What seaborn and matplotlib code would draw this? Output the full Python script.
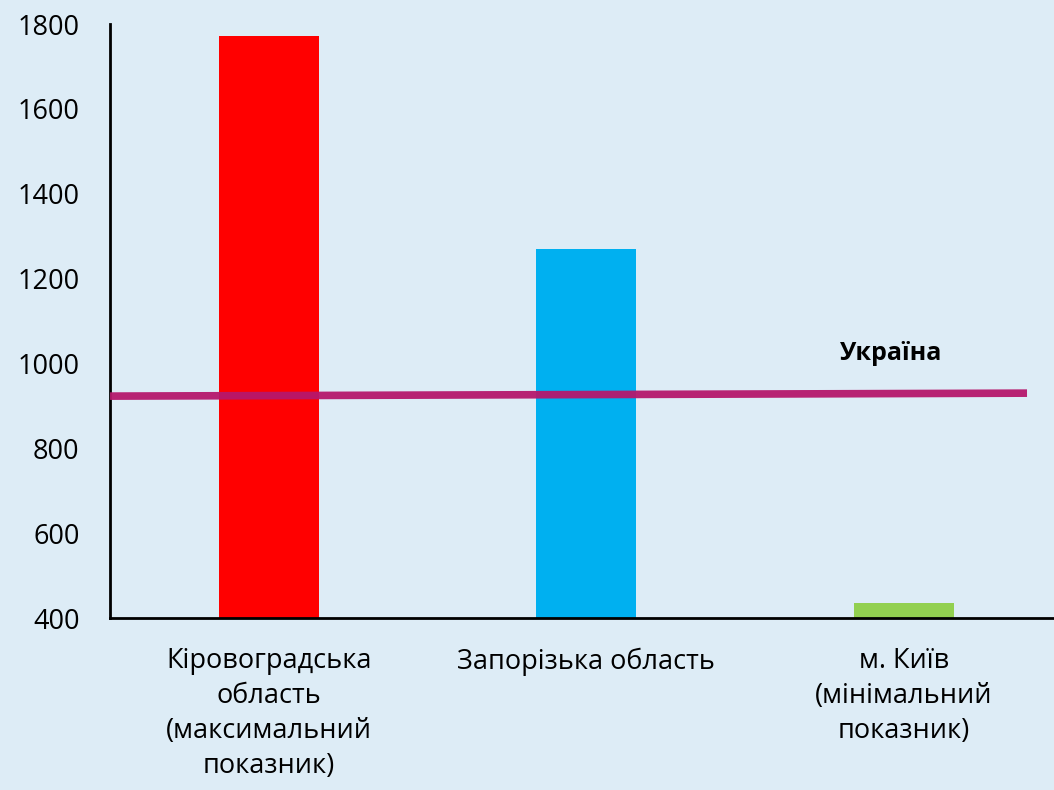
import matplotlib
matplotlib.use("Agg")
import matplotlib.pyplot as plt
import seaborn as sns
import pandas as pd

categories = ["Кіровоградська\nобласть\n(максимальний\nпоказник)",
              "Запорізька область",
              "м. Київ\n(мінімальний\nпоказник)"]
values = [1772, 1270, 436]
bar_colors = ["#FF0000", "#00B0F0", "#92D050"]
ukraine_values = [923, 930]
ukraine_label = "Україна"
yticks = [400, 600, 800, 1000, 1200, 1400, 1600, 1800]

sns.set_theme(style="white")
plt.rcParams['font.family'] = ['Open Sans', 'DejaVu Sans']

bg = "#DDECF6"
fig = plt.figure(figsize=(10.54, 7.90), dpi=100, facecolor=bg)
ax = fig.add_axes([0.1044, 0.2177, 0.8956, 0.7519])
ax.set_facecolor(bg)

df = pd.DataFrame({"cat": categories, "val": values})
sns.barplot(data=df, x="cat", y="val", hue="cat", palette=bar_colors,
            width=0.315, legend=False, ax=ax, saturation=1,
            edgecolor="none", linewidth=0)

ax.set_ylim(400, 1800)
ax.set_xlim(-0.5, 2.473)
ax.set_yticks(yticks)
ax.set_yticklabels([str(t) for t in yticks], fontsize=19.5, color="black")
ax.tick_params(axis="y", length=0, pad=22)
ax.tick_params(axis="x", length=0, pad=21, labelsize=19.5, colors="black")
for lbl in ax.get_xticklabels():
    lbl.set_horizontalalignment("center")
    lbl.set_multialignment("center")
    lbl.set_linespacing(1.33)
ax.set_xlabel("")
ax.set_ylabel("")

ax.plot([-0.5, 2.388], ukraine_values, color="#B5186C", lw=5.5,
        solid_capstyle="butt", alpha=0.95, zorder=5)
ax.text(1.96, 1024, ukraine_label, fontsize=18, fontweight="bold",
        ha="center", va="center", color="black")

for s in ["top", "right"]:
    ax.spines[s].set_visible(False)
for s in ["left", "bottom"]:
    ax.spines[s].set_color("black")
    ax.spines[s].set_linewidth(2)

fig.savefig("out.png", dpi=100, facecolor=bg)
